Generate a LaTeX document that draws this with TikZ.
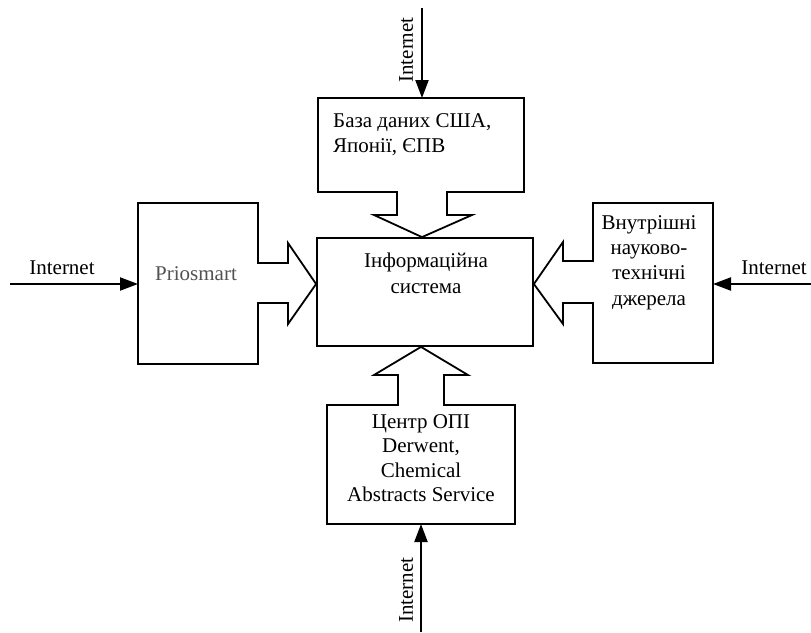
\documentclass[tikz,border=0pt]{standalone}
\usepackage{fontspec}
\setmainfont{Liberation Serif}
\usetikzlibrary{arrows.meta}
\begin{document}
\begin{tikzpicture}[x=1pt,y=-1pt,
  blockline/.style={line width=1.8pt, line join=miter, draw=black},
  feed/.style={line width=2.2pt, -{Triangle[length=18pt,width=13pt]}},
  lbl/.style={inner sep=0pt, font=\fontsize{21}{24.5}\selectfont},
  netlbl/.style={lbl, anchor=center},
]
\useasboundingbox (0,0) rectangle (811,632);

% central information system
\node[blockline, draw, minimum width=216pt, minimum height=108pt, inner sep=0pt] (core) at (425,292) {};
% multi-line labels are anchored at the baseline of their last line
\node[lbl, align=center, anchor=base, font=\fontsize{21}{26}\selectfont] (coretext) at (426,293) {Інформаційна\\система};

% top source with block arrow pointing down
\draw[blockline] (318,98) -- (524,98) -- (524,192) -- (447,192) -- (447,215) -- (472,215)
  -- (core.north -| 422,0) -- (374,215) -- (397,215) -- (397,192) -- (318,192) -- cycle;
\node[lbl, align=left, anchor=base west] (toptext) at (333,152) {База даних США,\\Японії, ЄПВ};
\coordinate (topin) at (422,98);
\coordinate (topsrc) at (422,8);

% left source with block arrow pointing right
\draw[blockline] (138,203) -- (258,203) -- (258,263) -- (288,263) -- (288,243)
  -- (core.west |- 0,284) -- (288,324) -- (288,303) -- (258,303) -- (258,364) -- (138,364) -- cycle;
\node[lbl, anchor=base, text=black!68] (lefttext) at (196,280) {Priosmart};
\coordinate (leftin) at (138,284);
\coordinate (leftsrc) at (10,284);

% right source with block arrow pointing left
\draw[blockline] (713,203) -- (593,203) -- (593,261) -- (563,261) -- (563,242)
  -- (core.east |- 0,284) -- (563,324) -- (563,303) -- (593,303) -- (593,363) -- (713,363) -- cycle;
\node[lbl, align=center, anchor=base, font=\fontsize{21}{25.3}\selectfont] (righttext) at (649,305) {Внутрішні\\науково-\\технічні\\джерела};
\coordinate (rightin) at (713,284);
\coordinate (rightsrc) at (811,284);

% bottom source with block arrow pointing up
\draw[blockline] (327,524) -- (515,524) -- (515,405) -- (444,405) -- (444,375) -- (468,375)
  -- (core.south -| 421,0) -- (374,375) -- (398,375) -- (398,405) -- (327,405) -- cycle;
\node[lbl, align=center, anchor=base] (bottomtext) at (421,501.5) {Центр ОПІ\\Derwent,\\Chemical\\Abstracts Service};
\coordinate (bottomin) at (421,524);
\coordinate (bottomsrc) at (421,632);

% Internet feeds
\draw[feed] (topsrc) -- (topin);
\draw[feed] (leftsrc) -- (leftin);
\draw[feed] (rightsrc) -- (rightin);
\draw[feed] (bottomsrc) -- (bottomin);

\node[netlbl, rotate=90] (topnet) at (406,50) {Internet};
\node[netlbl] (leftnet) at (62,268) {Internet};
\node[netlbl] (rightnet) at (774,268) {Internet};
\node[netlbl, rotate=90] (bottomnet) at (406,590) {Internet};
\end{tikzpicture}
\end{document}
